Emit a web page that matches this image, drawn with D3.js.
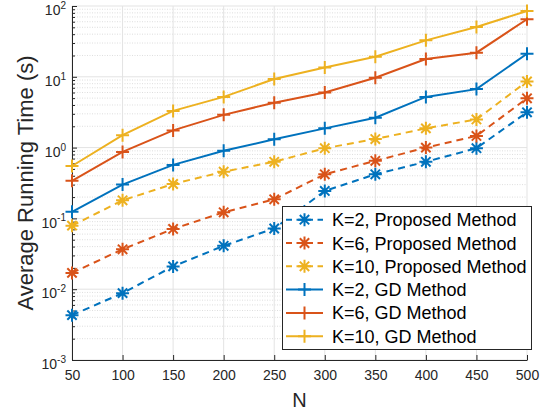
<!DOCTYPE html>
<html>
<head>
<meta charset="utf-8">
<script src="https://cdnjs.cloudflare.com/ajax/libs/d3/7.8.5/d3.min.js"></script>
<style>
    body { margin: 0; background: #fff; }
    svg { display: block; font-family: 'Liberation Sans', Arial, Helvetica, sans-serif; }
</style>
</head>
<body>
<div id="chart"></div>
<script>
var width = 547, height = 415;

// x values (N) and running times
var nValues = [50, 100, 150, 200, 250, 300, 350, 400, 450, 500];
var propK2 = [0.0043, 0.0088, 0.021, 0.041, 0.072, 0.244, 0.42, 0.63, 0.98, 3.15];
var propK6 = [0.017, 0.0366, 0.071, 0.122, 0.186, 0.42, 0.65, 1.0, 1.46, 4.97];
var propK10 = [0.079, 0.18, 0.306, 0.457, 0.63, 0.98, 1.32, 1.87, 2.5, 8.6];
var gdK2 = [0.124, 0.30, 0.57, 0.90, 1.31, 1.87, 2.64, 5.2, 6.7, 21.2];
var gdK6 = [0.34, 0.87, 1.75, 2.9, 4.3, 6.0, 9.7, 17.8, 21.9, 65];
var gdK10 = [0.55, 1.5, 3.3, 5.2, 9.3, 13.5, 19.2, 32.7, 50.5, 85];

var seriesNames = ['K=2, Proposed Method', 'K=6, Proposed Method', 'K=10, Proposed Method',
    'K=2, GD Method', 'K=6, GD Method', 'K=10, GD Method'];
var yTicks = [1e-3, 1e-2, 1e-1, 1e0, 1e1, 1e2];
var yExponents = ['-3', '-2', '-1', '0', '1', '2'];

var colors = ['#0072BD', '#D95319', '#EDB120'];
var axisColor = '#262626';

var svg, g, x, y;

var init = function () {

    svg = d3.select('#chart')
        .append('svg')
        .attr('width', width)
        .attr('height', height);

    x = d3.scaleLinear().domain([50, 500]).range([72, 527]);
    y = d3.scaleLog().domain([1e-3, 1e2]).range([360, 6]);

    g = svg.append('g');

    // minor grid (dotted), decades 2..9
    var minor = [];
    for (var e = -3; e < 2; e++) {
        for (var k = 2; k < 10; k++) minor.push(k * Math.pow(10, e));
    }

    g.selectAll('.minorGrid')
        .data(minor)
        .enter()
        .append('line')
        .attr('class', 'minorGrid')
        .attr('x1', 72).attr('x2', 527)
        .attr('y1', d => y(d)).attr('y2', d => y(d))
        .attr('stroke', '#d6d6d6')
        .attr('stroke-width', 0.8)
        .attr('stroke-dasharray', '1,1.5');

    g.selectAll('.gridY')
        .data(yTicks)
        .enter()
        .append('line')
        .attr('class', 'gridY')
        .attr('x1', 72).attr('x2', 527)
        .attr('y1', d => y(d)).attr('y2', d => y(d))
        .attr('stroke', '#e3e3e3')
        .attr('stroke-width', 1);

    g.selectAll('.gridX')
        .data(nValues)
        .enter()
        .append('line')
        .attr('class', 'gridX')
        .attr('x1', d => x(d)).attr('x2', d => x(d))
        .attr('y1', 6).attr('y2', 360)
        .attr('stroke', '#e3e3e3')
        .attr('stroke-width', 1);

    // axes, ticks inward
    var xAxis = d3.axisBottom(x)
        .tickValues(nValues)
        .tickSizeInner(-5)
        .tickSizeOuter(0)
        .tickPadding(10);

    var xg = svg.append('g')
        .attr('transform', 'translate(0,360)')
        .call(xAxis);
    xg.selectAll('line, path').attr('stroke', axisColor);
    xg.selectAll('text')
        .attr('fill', axisColor)
        .style('font-size', '14px')
        .style('font-family', null);

    var yMinor = d3.axisLeft(y)
        .tickValues(minor)
        .tickSizeInner(-3)
        .tickSizeOuter(0)
        .tickFormat('');

    var ymg = svg.append('g')
        .attr('transform', 'translate(72,0)')
        .call(yMinor);
    ymg.select('.domain').remove();
    ymg.selectAll('line').attr('stroke', axisColor);

    var yAxis = d3.axisLeft(y)
        .tickValues(yTicks)
        .tickSizeInner(-5)
        .tickSizeOuter(0)
        .tickPadding(6)
        .tickFormat('');

    var yg = svg.append('g')
        .attr('transform', 'translate(72,0)')
        .call(yAxis);
    yg.selectAll('line, path').attr('stroke', axisColor);

    // 10^n labels with superscript
    yg.selectAll('.tick text')
        .attr('x', -6)
        .attr('dy', '0.62em')
        .attr('fill', axisColor)
        .style('font-size', '14px')
        .style('font-family', null)
        .each(function (d, i) {
            var t = d3.select(this);
            t.append('tspan').text('10');
            t.append('tspan')
                .attr('dy', '-0.62em')
                .style('font-size', '10px')
                .text(yExponents[i]);
        });

    svg.selectAll('.domain').attr('stroke-width', 1);

    // titles
    svg.append('text')
        .attr('transform', 'translate(33,183) rotate(-90)')
        .attr('text-anchor', 'middle')
        .attr('fill', axisColor)
        .style('font-size', '22px')
        .text('Average Running Time (s)');

    svg.append('text')
        .attr('x', 299.5)
        .attr('y', 407)
        .attr('text-anchor', 'middle')
        .attr('fill', axisColor)
        .style('font-size', '20px')
        .text('N');

    var allSeries = [propK2, propK6, propK10, gdK2, gdK6, gdK10];
    var line = d3.line()
        .x((d, i) => x(nValues[i]))
        .y(d => y(d));

    var plot = svg.append('g');

    allSeries.forEach(function (vals, s) {
        var dashed = s < 3;
        var col = colors[s % 3];

        plot.append('path')
            .datum(vals)
            .attr('fill', 'none')
            .attr('stroke', col)
            .attr('stroke-width', 2)
            .attr('stroke-dasharray', dashed ? '7,5' : null)
            .attr('d', line);

        plot.selectAll('.m' + s)
            .data(vals)
            .enter()
            .append('path')
            .attr('class', 'm' + s)
            .attr('transform', (d, i) => 'translate(' + x(nValues[i]) + ',' + y(d) + ')')
            .attr('d', dashed ? starPath(6.5) : plusPath(6.5))
            .attr('fill', 'none')
            .attr('stroke', col)
            .attr('stroke-width', 2);
    });

    drawLegend();
}

function plusPath(r) {
    return 'M' + (-r) + ',0H' + r + 'M0,' + (-r) + 'V' + r;
}

function starPath(r) {
    var a = r * 0.72;
    return plusPath(r) + 'M' + (-a) + ',' + (-a) + 'L' + a + ',' + a +
        'M' + (-a) + ',' + a + 'L' + a + ',' + (-a);
}

function drawLegend() {
    var lg = svg.append('g');

    lg.append('rect')
        .attr('x', 282.5)
        .attr('y', 206.5)
        .attr('width', 249)
        .attr('height', 143)
        .attr('fill', '#fff')
        .attr('stroke', axisColor)
        .attr('stroke-width', 1);

    var rows = lg.selectAll('.row')
        .data(seriesNames)
        .enter()
        .append('g')
        .attr('class', 'row')
        .attr('transform', (d, i) => 'translate(0,' + (219.7 + i * 23.3) + ')');

    rows.append('line')
        .attr('x1', 286).attr('x2', 323)
        .attr('stroke', (d, i) => colors[i % 3])
        .attr('stroke-width', 2)
        .attr('stroke-dasharray', (d, i) => i < 3 ? '6,4.5' : null);

    rows.append('path')
        .attr('transform', 'translate(304.5,0)')
        .attr('d', (d, i) => i < 3 ? starPath(6.5) : plusPath(6.5))
        .attr('fill', 'none')
        .attr('stroke', (d, i) => colors[i % 3])
        .attr('stroke-width', 2);

    rows.append('text')
        .attr('x', 332)
        .attr('y', 6.5)
        .attr('fill', '#000')
        .style('font-size', '18px')
        .text(d => d);
}

init();
</script>
</body>
</html>
